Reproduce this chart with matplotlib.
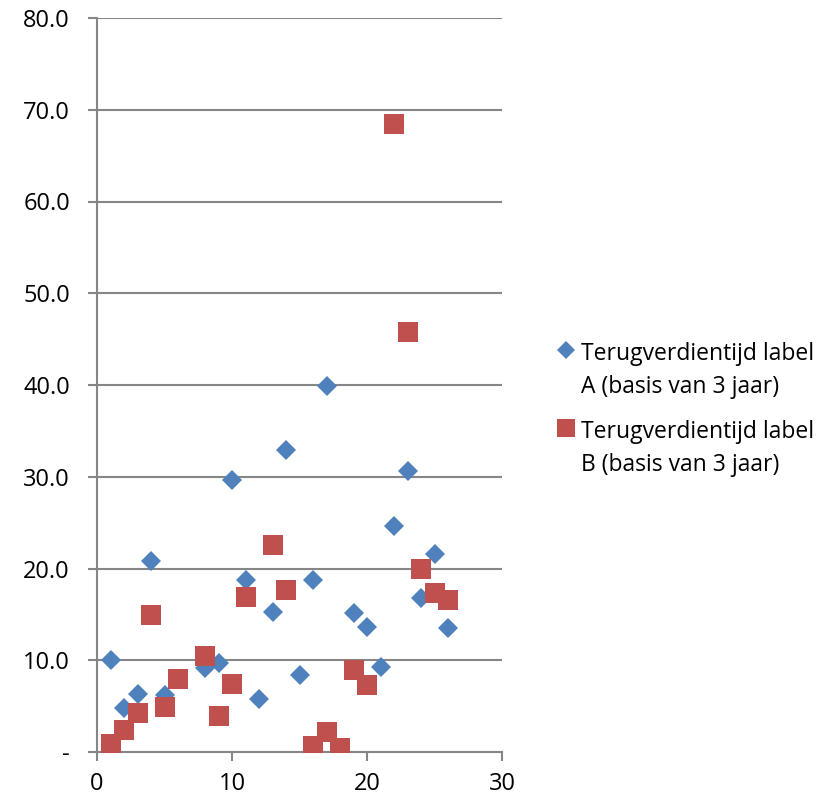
import numpy as np
import matplotlib.pyplot as plt

plt.rcParams['font.family'] = ['Open Sans', 'DejaVu Sans']

# serie A: terugverdientijd label A
xa = [1, 2, 3, 4, 5, 8, 9, 10, 11, 12, 13, 14, 15, 16, 17, 19, 20, 21, 22, 23, 24, 25, 26]
ya = [10.0, 4.8, 6.3, 20.8, 6.2, 9.2, 9.7, 29.7, 18.8, 5.8, 15.3, 32.9, 8.4, 18.7, 39.9,
      15.2, 13.6, 9.3, 24.6, 30.6, 16.8, 21.6, 13.5]

# serie B: terugverdientijd label B
xb = [1, 2, 3, 4, 5, 6, 8, 9, 10, 11, 13, 14, 16, 17, 18, 19, 20, 22, 23, 24, 25, 26]
yb = [0.9, 2.4, 4.3, 14.9, 4.9, 8.0, 10.5, 3.9, 7.4, 16.9, 22.6, 17.7, 0.6, 2.2, 0.4,
      8.9, 7.3, 68.5, 45.8, 19.9, 17.3, 16.6]

labels = ["Terugverdientijd label\nA (basis van 3 jaar)",
          "Terugverdientijd label\nB (basis van 3 jaar)"]
yticks = [0, 10, 20, 30, 40, 50, 60, 70, 80]
ytick_labels = ["-"] + [f"{v:.1f}" for v in yticks[1:]]
xticks = [0, 10, 20, 30]

fig = plt.figure(figsize=(8.36, 7.99), dpi=100)
ax = fig.add_axes([97/836, 1-752/799, (502-97)/836, (752-18)/799])

ax.plot(xa, ya, 'D', color='#4F81BD', ms=10.2, mew=0, label=labels[0], zorder=3)
ax.plot(xb, yb, 's', color='#C0504D', ms=14.4, mew=0, label=labels[1], zorder=3)

ax.set_xlim(0, 30)
ax.set_ylim(0, 80)
ax.set_yticks(yticks)
ax.set_yticklabels(ytick_labels)
ax.set_xticks(xticks)
ax.grid(axis='y', color='#868686', lw=1.5)
ax.set_axisbelow(True)
for s in ['top', 'right']:
    ax.spines[s].set_visible(False)
for s in ['left', 'bottom']:
    ax.spines[s].set_color('#868686')
    ax.spines[s].set_linewidth(1.5)
ax.tick_params(axis='both', colors='#868686', width=1.5, length=6.5, labelsize=17,
               labelcolor='black')
ax.tick_params(axis='y', pad=13)
ax.tick_params(axis='x', pad=8)

leg = ax.legend(loc='upper left', bbox_to_anchor=(549/836, 1-333/799),
                bbox_transform=fig.transFigure, frameon=False, fontsize=16.5,
                handletextpad=0.3, handlelength=0.7, labelspacing=0.9, borderaxespad=0,
                markerscale=0.9)
for t in leg.get_texts():
    t.set_linespacing(1.5)
# marker naast de eerste regel van het label zetten
for col in leg._legend_handle_box.get_children():
    for row in col.get_children():
        row.align = "top"

fig.savefig('out.png', dpi=100)
